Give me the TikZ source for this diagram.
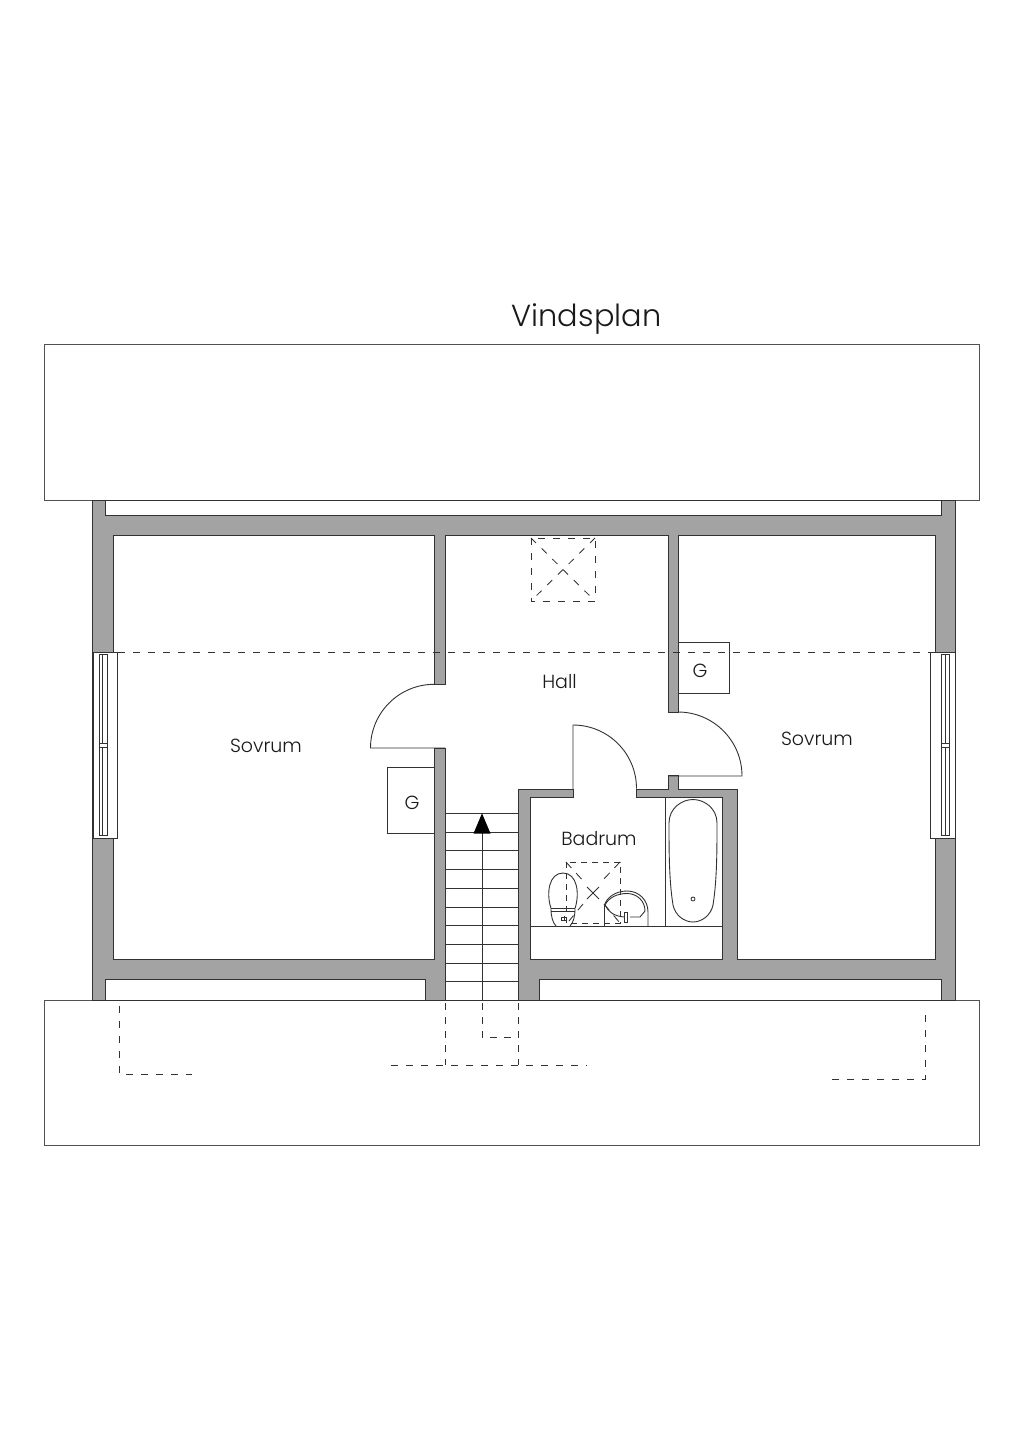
\documentclass[tikz,border=0pt]{standalone}
\usepackage{fontspec}
\setmainfont{Poppins Light}
\definecolor{wallgray}{RGB}{163,163,163}
\definecolor{ink}{RGB}{50,50,50}
\tikzset{
  x=1pt,y=-1pt,
  plan/.style={draw=ink,line width=0.9pt,line join=miter},
  roof/.style={draw=ink!85,line width=0.8pt},
  thin plan/.style={draw=ink,line width=0.9pt},
  dash plan/.style={draw=ink,line width=0.85pt,dash pattern=on 7pt off 8pt},
  label/.style={inner sep=0pt,font=\fontsize{19}{19}\selectfont,text=black!90},
  win/.style={draw=ink,line width=0.7pt,fill=white},
}
\begin{document}
\begin{tikzpicture}
\useasboundingbox (0,0) rectangle (1024,1448);
\fill[white] (0,0) rectangle (1024,1448);
% roofs
\draw[roof] (44,344) rectangle (979,500);
\draw[roof] (44,1000) rectangle (979,1145);
% walls
\path[plan,fill=wallgray,even odd rule]
 (92,500) -- (955,500) -- (955,1000) -- (92,1000) -- cycle
 (105,500) -- (941,500) -- (941,515) -- (105,515) -- cycle
 (105,979) -- (425,979) -- (425,1000) -- (105,1000) -- cycle
 (539,979) -- (941,979) -- (941,1000) -- (539,1000) -- cycle
 (113,535) -- (434,535) -- (434,684) -- (445,684) -- (445,535) -- (668,535) -- (668,712) -- (678,712) -- (678,535) -- (935,535) -- (935,959) -- (737,959) -- (737,789) -- (678,789) -- (678,775) -- (668,775) -- (668,789) -- (636,789) -- (636,797) -- (722,797) -- (722,959) -- (530,959) -- (530,797) -- (573,797) -- (573,789) -- (518,789) -- (518,1000) -- (445,1000) -- (445,748) -- (434,748) -- (434,959) -- (113,959) -- cycle;
% ridge
\draw[dash plan] (118,652) -- (930,652);
% left window
\draw[win] (93,652) rectangle (117,838);
\draw[win] (99,654) rectangle (107,835);
\draw[thin plan,line width=0.6pt] (102,654) -- (102,835);
\draw[win] (99,743.5) rectangle (107,747.5);
% right window
\draw[win] (930.5,652) rectangle (955,838);
\draw[win] (941,654) rectangle (949,835);
\draw[thin plan,line width=0.6pt] (945,654) -- (945,835);
\draw[win] (941,743.5) rectangle (949,747.5);
% doors
\draw[thin plan] (445,748) -- (370.5,748) arc[start angle=180,end angle=270,radius=63.7];
\draw[thin plan] (668,776) -- (742,776) arc[start angle=0,end angle=-90,radius=64];
\draw[thin plan] (573,789) -- (573,725) arc[start angle=-90,end angle=0,radius=63.5];
% G boxes
\draw[thin plan] (678,642) -- (729.5,642) -- (729.5,693.5) -- (678,693.5);
\draw[thin plan] (434,767) -- (387,767) -- (387,833) -- (434,833);
% stairs
\foreach \yy in {813.3,832,850.7,869.3,888.3,907,925.7,944.3,963,981.7}
  \draw[thin plan] (445,\yy) -- (518,\yy);
\draw[thin plan] (482,825) -- (482,1000);
\fill[black] (482,813.3) -- (490.5,833.5) -- (473.5,833.5) -- cycle;
% dashed below
\draw[dash plan,dash pattern=on 7pt off 7pt] (445,1003) -- (445,1065);
\draw[dash plan,dash pattern=on 7pt off 7pt] (518,1003) -- (518,1065);
\draw[dash plan,dash pattern=on 7pt off 7pt] (482,1003) -- (482,1037) -- (518,1037);
\draw[dash plan] (391,1065) -- (587,1065);
\draw[dash plan] (119,1006) -- (119,1074) -- (192,1074);
\draw[dash plan] (925,1015) -- (925,1079) -- (830,1079);
% hall skylight
\draw[dash plan] (531,538) rectangle (595,601);
\draw[dash plan] (531,538) -- (595,601);
\draw[dash plan] (595,538) -- (531,601);
% bathroom fittings
\draw[thin plan] (530,926) -- (722,926);
\draw[thin plan] (665,797) -- (665,926);
% bath
\draw[thin plan] (669,823)
 .. controls (669,808) and (682,799.5) .. (693,799.5)
 .. controls (704,799.5) and (717,808) .. (717,823)
 .. controls (717,850) and (717,880) .. (713,905)
 .. controls (711,915) and (702,922) .. (693,922)
 .. controls (684,922) and (675,915) .. (673,905)
 .. controls (669,880) and (669,850) .. (669,823) -- cycle;
\draw[thin plan,line width=0.8pt] (693,899) circle[radius=2];
% bath skylight
\draw[dash plan,dash pattern=on 6pt off 5pt] (566,862) rectangle (620,923);
\draw[dash plan,dash pattern=on 8pt off 7pt] (566,862) -- (586,884);
\draw[dash plan,dash pattern=on 8pt off 7pt] (620,862) -- (601,882);
\draw[thin plan] (587,887) -- (599,899);
\draw[thin plan] (599,887) -- (587,899);
\draw[dash plan,dash pattern=on 8pt off 7pt] (583,904) -- (569,921);
\draw[dash plan,dash pattern=on 8pt off 7pt] (604,904) -- (620,923);
% toilet
\draw[thin plan] (551,908.5)
 .. controls (546,893) and (549,873) .. (563,873)
 .. controls (577,873) and (580,893) .. (575,908.5);
\draw[thin plan] (551,908.5) -- (575,908.5) (551,911.5) -- (575,911.5);
\draw[thin plan] (551,909) .. controls (551,917) and (553,923) .. (556,926);
\draw[thin plan] (575,909) .. controls (575,917) and (573,923) .. (570,926);
\draw[thin plan,line width=0.6pt] (561,917) rectangle (566,920);
\draw[thin plan] (564,916) -- (564,921);
% sink
\draw[thin plan] (604.5,926) -- (604.5,905) .. controls (607,897) and (616,891) .. (627,891)
 .. controls (639,891) and (648,900) .. (648,912) -- (648,926);
\draw[thin plan] (605,905) .. controls (609,897) and (618,893.5) .. (627,893.5)
 .. controls (637,893.5) and (645,901) .. (645,911) -- (640,917) -- (630,917);
\draw[thin plan] (605,905) .. controls (608,911) and (613,916) .. (624,917);
\draw[thin plan,line width=0.7pt,fill=white] (624,912) rectangle (627.5,922);
% labels
\node[label,font=\fontsize{30.4}{32}\selectfont] (title) at (586.5,318.5) {Vindsplan};
\node[label] (sovrum1) at (266,745.5) {Sovrum};
\node[label] (sovrum2) at (817,738.5) {Sovrum};
\node[label] (hall) at (559.5,681.5) {Hall};
\node[label] (badrum) at (599,839) {Badrum};
\node[label] (g1) at (700,670.5) {G};
\node[label] (g2) at (412,803) {G};
\end{tikzpicture}
\end{document}
